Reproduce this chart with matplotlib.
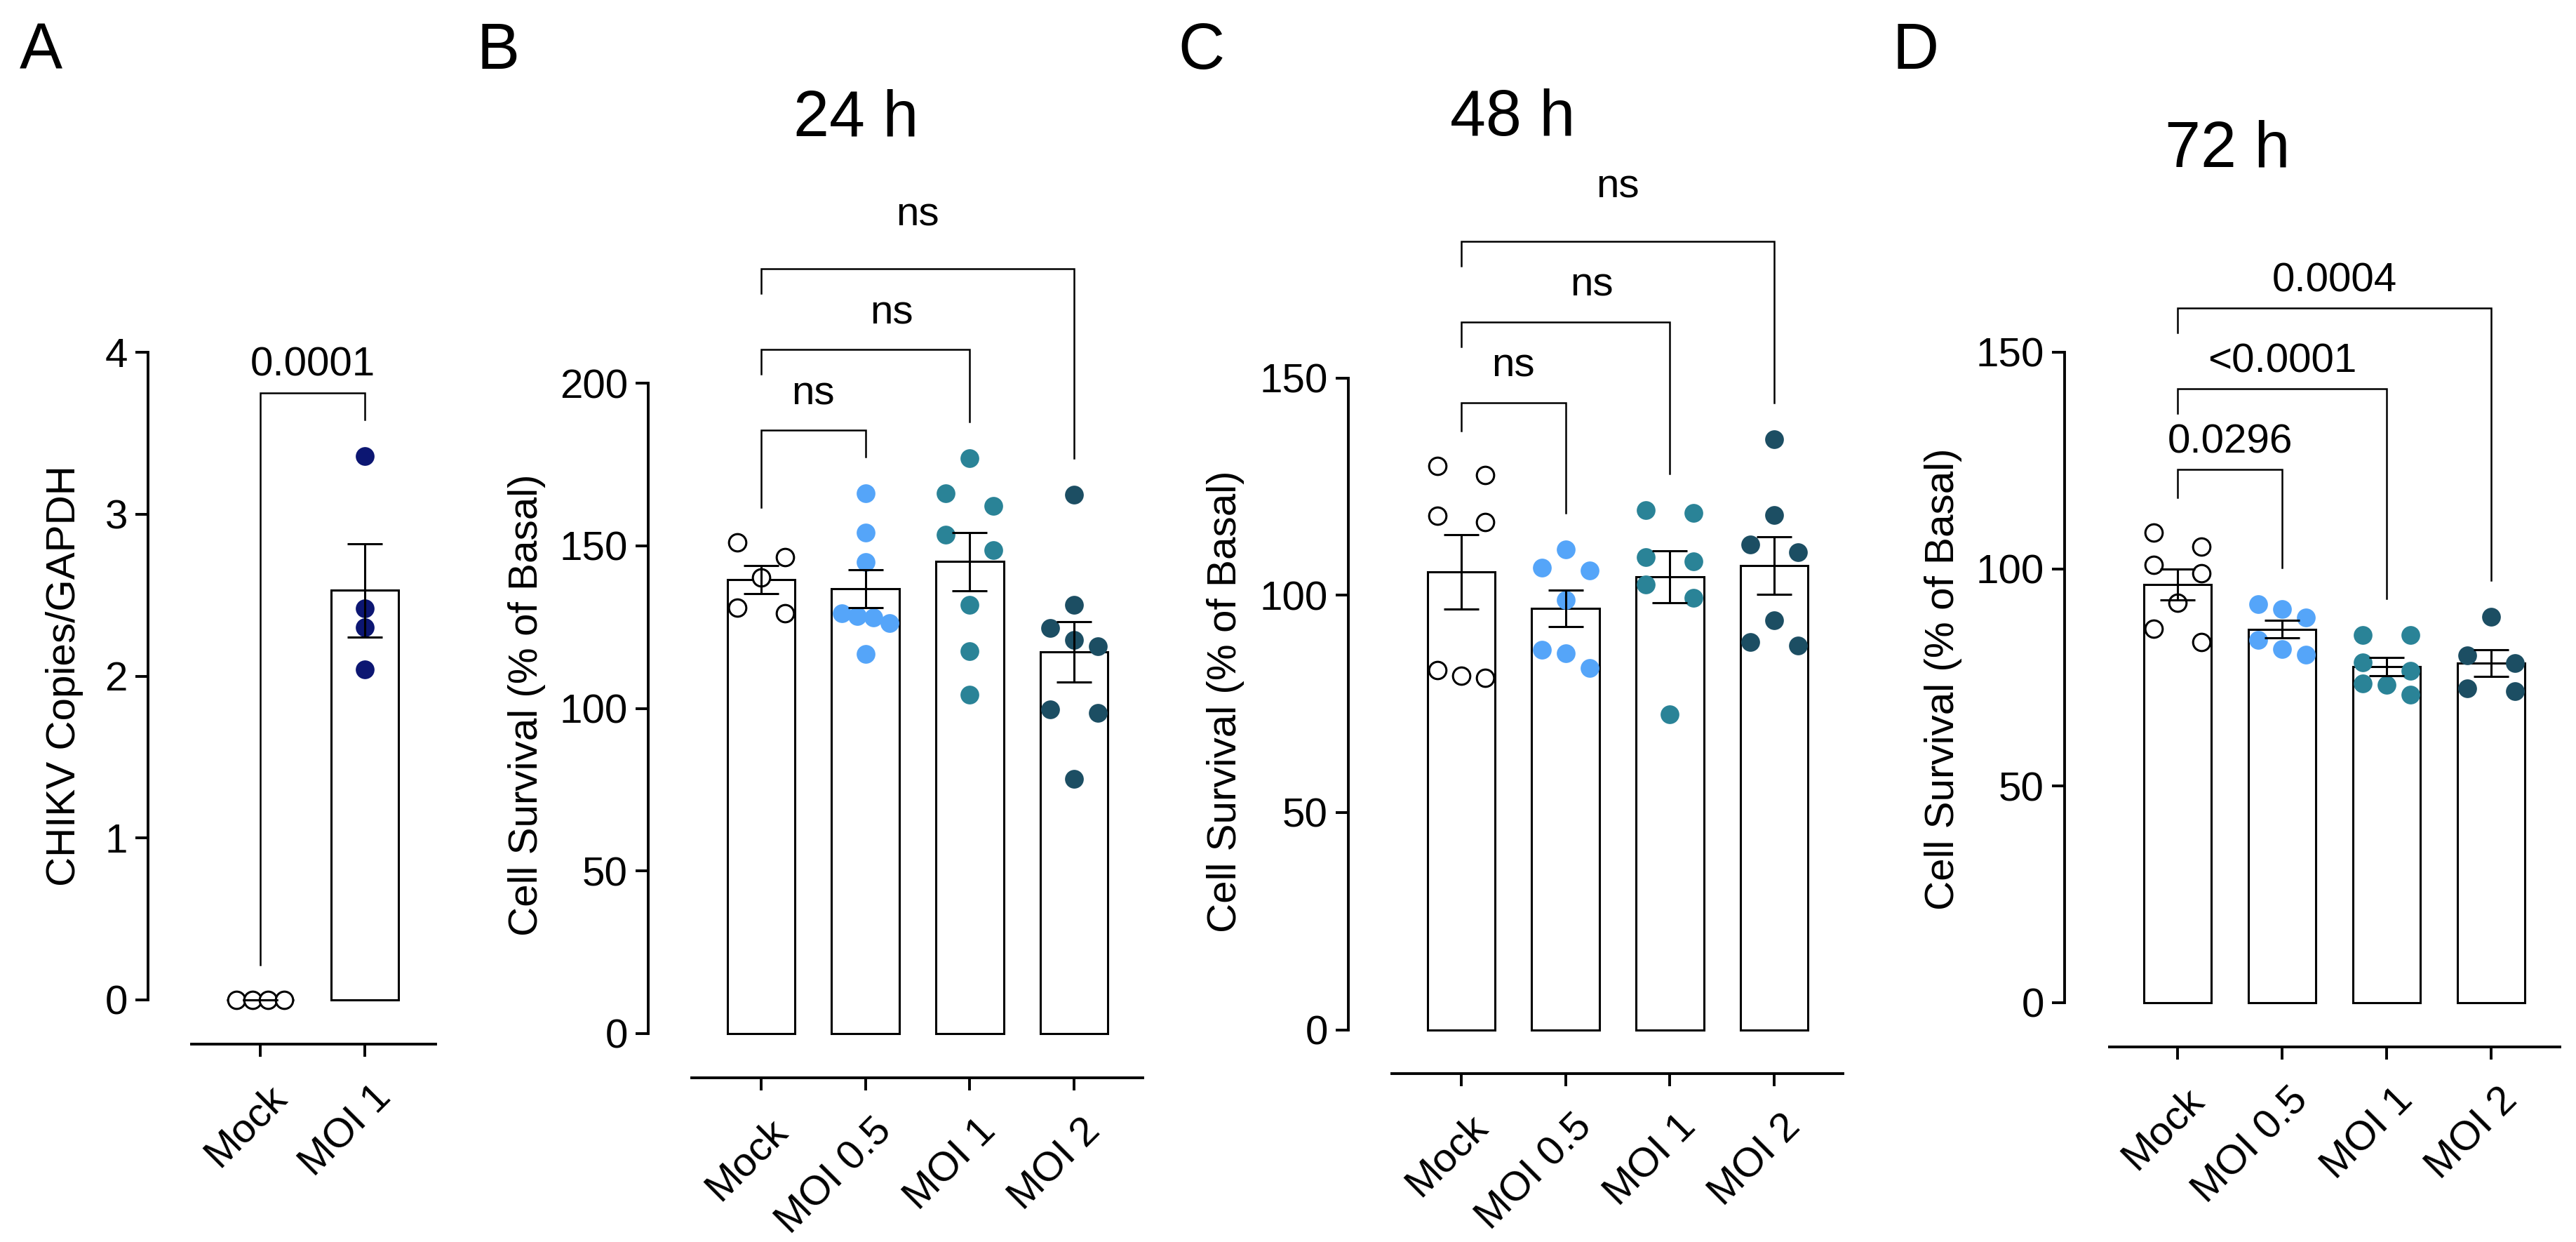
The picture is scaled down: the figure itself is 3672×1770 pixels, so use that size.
import numpy as np
import matplotlib
matplotlib.use("Agg")
import matplotlib.pyplot as plt
from matplotlib.transforms import ScaledTranslation

plt.rcParams['font.family'] = ['Liberation Sans', 'DejaVu Sans']

# ---- data ----
groups_a = ["Mock", "MOI 1"]
a_mock = [0.0, 0.0, 0.0, 0.0]
a_moi1 = [3.36, 2.42, 2.30, 2.04]

groups = ["Mock", "MOI 0.5", "MOI 1", "MOI 2"]

# 24 h
b_mock = [151.0, 146.6, 140.2, 130.9, 129.3]
b_moi05 = [166.1, 154.1, 144.9, 129.3, 128.4, 128.0, 126.3, 116.8]
b_moi1 = [177.0, 166.1, 162.2, 153.3, 148.6, 131.9, 117.6, 104.3]
b_moi2 = [165.6, 131.9, 124.8, 121.0, 119.2, 99.7, 98.5, 78.4]

# 48 h
c_mock = [129.8, 127.6, 118.2, 116.8, 82.7, 81.4, 80.9]
c_moi05 = [110.6, 106.4, 105.7, 98.9, 87.4, 86.7, 83.3]
c_moi1 = [119.6, 118.9, 108.7, 107.8, 102.5, 99.4, 72.6]
c_moi2 = [135.9, 118.5, 111.7, 109.9, 94.3, 89.2, 88.4]

# 72 h
d_mock = [108.4, 105.2, 101.0, 99.0, 92.2, 86.2, 83.2]
d_moi05 = [91.9, 90.8, 88.8, 83.6, 81.5, 80.3]
d_moi1 = [84.8, 84.8, 78.5, 76.6, 73.6, 73.3, 71.1]
d_moi2 = [89.0, 80.1, 78.3, 72.5, 71.8]

stats_a = [(0, 1, "0.0001")]
stats_b = [(0, 1, "ns"), (0, 2, "ns"), (0, 3, "ns")]
stats_c = [(0, 1, "ns"), (0, 2, "ns"), (0, 3, "ns")]
stats_d = [(0, 1, "0.0296"), (0, 2, "<0.0001"), (0, 3, "0.0004")]

# ---- style ----
W, H = 3672, 1770
FS = 42
BIG = 66
MS = 370          # marker area (pt^2)
DOT_PX = 26       # dot diameter in pixels
ROW_HALF_PX = 34  # half width of a row of side-by-side dots
col_a = [None, "#0c1672"]
col_4 = [None, "#55a5f9", "#2a8397", "#1c4e63"]
# label gap above bracket and sideways shift, in pixels
ns_gap, ns_dx = [37, 37, 62], [0, 37, 0]
num_gap, num_dx = [24, 24, 24], [0, 0, 0]

fig = plt.figure(figsize=(W / 100, H / 100), dpi=100)


def swarm(vals, ppu, unit_px):
    """Spread dots that would overlap into centred rows."""
    vals = np.asarray(vals, float)
    order = np.argsort(-vals, kind="stable")
    rows = []
    for i in order:
        if rows and (vals[rows[-1][0]] - vals[i]) * ppu < DOT_PX:
            rows[-1].append(i)
        else:
            rows.append([i])
    off = np.zeros(len(vals))
    for row in rows:
        if len(row) > 1:
            off[row] = np.linspace(-ROW_HALF_PX, ROW_HALF_PX, len(row)) / unit_px
    return off


def panel(box, x0, step, zero, ppu, spine_px, names, data, colors, ytop, ystep,
          stats, gaps, dxs):
    left, right, top, bottom = box
    ax = fig.add_axes([left / W, 1 - bottom / H, (right - left) / W, (bottom - top) / H])
    ax.set_xlim((left - x0) / step, (right - x0) / step)
    ax.set_ylim(-(bottom - zero) / ppu, (zero - top) / ppu)

    x = np.arange(len(data))
    means = [np.mean(v) for v in data]
    sems = [np.std(v, ddof=1) / np.sqrt(len(v)) for v in data]

    ax.bar(x, means, width=0.65, color="white", edgecolor="black", linewidth=2.2, zorder=1)
    for i, (vals, c) in enumerate(zip(data, colors)):
        xs = i + swarm(vals, ppu, step)
        if c is None:
            ax.scatter(xs, vals, s=MS * 0.85, facecolor="white", edgecolor="black",
                       linewidth=2.2, zorder=3, clip_on=False)
        else:
            ax.scatter(xs, vals, s=MS, color=c, linewidth=0, zorder=3, clip_on=False)
    ax.errorbar(x, means, yerr=sems, fmt="none", ecolor="black", elinewidth=2.2,
                capsize=18, capthick=2.2, zorder=4)

    # significance brackets
    level = None
    for n, (i, j, label) in enumerate(stats):
        top_pts = max(max(v) for v in data[i:j + 1])
        lev = top_pts + 90 / ppu
        if level is not None:
            lev = max(lev, level + 115 / ppu)
        yl = max(data[i]) + 50 / ppu if n == 0 else lev - 35 / ppu
        yr = max(data[j]) + 52 / ppu
        ax.plot([i, i, j, j], [yl, lev, lev, yr], color="black", lw=1.8,
                solid_joinstyle="miter", clip_on=False, zorder=2)
        ax.annotate(label, xy=((i + j) / 2 + dxs[n] / step, lev),
                    xytext=(0, gaps[n] * 0.72), textcoords="offset points",
                    ha="center", va="baseline", fontsize=FS)
        level = lev

    for s in ["top", "right"]:
        ax.spines[s].set_visible(False)
    ax.spines["left"].set_bounds(0, ytop)
    ax.spines["bottom"].set_bounds((spine_px - x0) / step, (right - x0) / step)
    for s in ["left", "bottom"]:
        ax.spines[s].set_linewidth(2.8)

    ax.set_yticks(np.arange(0, ytop + ystep / 2, ystep))
    ax.set_xticks(x)
    ax.set_xticklabels(names)
    ax.tick_params(axis="both", direction="out", length=13, width=2.8, labelsize=FS)
    ax.tick_params(axis="y", pad=8)
    ax.tick_params(axis="x", pad=22)
    shift = ScaledTranslation(7 / 72, 0, fig.dpi_scale_trans)
    for lbl in ax.get_xticklabels():
        lbl.set_rotation(45)
        lbl.set_ha("right")
        lbl.set_va("top")
        lbl.set_rotation_mode("anchor")
        lbl.set_transform(lbl.get_transform() + shift)
    return ax


panel((211, 621, 430, 1488), 371, 149, 1425, 230.75, 273,
      groups_a, [a_mock, a_moi1], col_a, 4, 1, stats_a, num_gap, num_dx)
panel((924, 1629, 250, 1536), 1085, 148.7, 1473, 4.635, 986,
      groups, [b_mock, b_moi05, b_moi1, b_moi2], col_4, 200, 50, stats_b, ns_gap, ns_dx)
panel((1922, 2627, 250, 1530), 2083, 148.7, 1467.5, 6.193, 1984,
      groups, [c_mock, c_moi05, c_moi1, c_moi2], col_4, 150, 50, stats_c, ns_gap, ns_dx)
panel((2943, 3649, 250, 1492), 3104, 149, 1429, 6.18, 3007,
      groups, [d_mock, d_moi05, d_moi1, d_moi2], col_4, 150, 50, stats_d, num_gap, num_dx)

# y labels
ylab = "Cell Survival (% of Basal)"
fig.text(92 / W, 1 - 963 / H, "CHIKV Copies/GAPDH", rotation=90, ha="center", va="center", fontsize=FS)
fig.text(751 / W, 1 - 1005 / H, ylab, rotation=90, ha="center", va="center", fontsize=FS)
fig.text(1747 / W, 1 - 1000 / H, ylab, rotation=90, ha="center", va="center", fontsize=FS)
fig.text(2770 / W, 1 - 968 / H, ylab, rotation=90, ha="center", va="center", fontsize=FS)

# titles and panel letters
fig.text(1220 / W, 1 - 193 / H, "24 h", ha="center", va="baseline", fontsize=BIG)
fig.text(2156 / W, 1 - 193 / H, "48 h", ha="center", va="baseline", fontsize=BIG)
fig.text(3175 / W, 1 - 237 / H, "72 h", ha="center", va="baseline", fontsize=BIG)
for letter, xp in [("A", 58), ("B", 710), ("C", 1712), ("D", 2731)]:
    fig.text(xp / W, 1 - 98 / H, letter, ha="center", va="baseline", fontsize=BIG)

fig.savefig("out.png", dpi=100, facecolor="white")
